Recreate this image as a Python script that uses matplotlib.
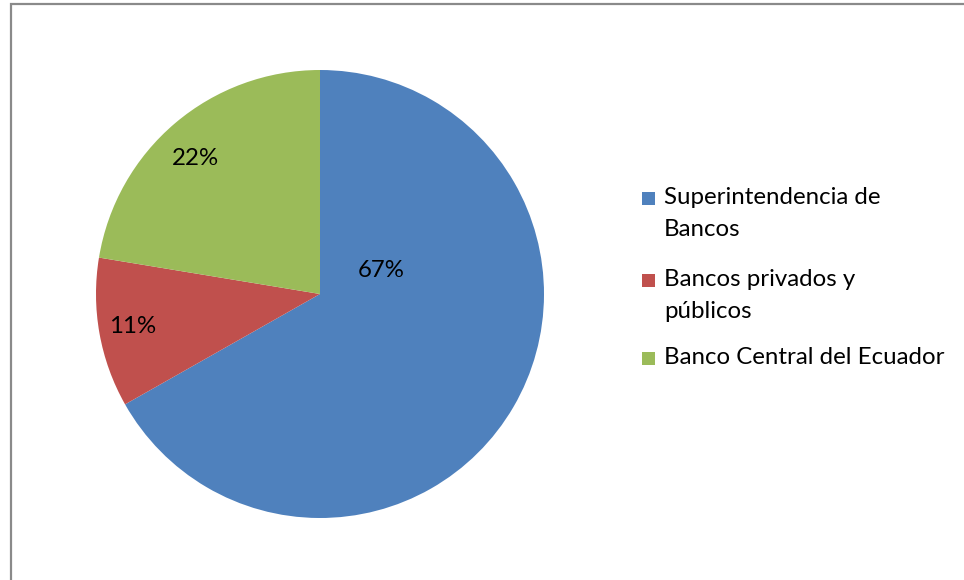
import matplotlib
matplotlib.use("Agg")
import matplotlib.pyplot as plt
from matplotlib.patches import Rectangle

categories = ["Superintendencia de\nBancos", "Bancos privados y\npúblicos", "Banco Central del Ecuador"]
values = [66.8, 10.8, 22.4]
colors = ["#4F81BD", "#C0504D", "#9BBB59"]
label_offsets = [(0.272, 0.107), (-0.835, -0.143), (-0.554, 0.607)]

W, H = 964, 580
FS = 17.3
plt.rcParams['font.family'] = ['Lato', 'DejaVu Sans']
fig = plt.figure(figsize=(W / 100, H / 100), dpi=100)

# frame
fig.patches.append(Rectangle((10.5 / W, -0.1), 1.2, (H - 4.5) / H + 0.1,
                             transform=fig.transFigure, fill=False,
                             edgecolor="#8A8A8A", linewidth=1.6))

cx, cy, r = 320, 294, 224
ax = fig.add_axes([(cx - r) / W, (H - cy - r) / H, 2 * r / W, 2 * r / H])
wedges, texts, autotexts = ax.pie(values, colors=colors, startangle=90, counterclock=False,
                                  autopct='%1.0f%%', radius=1,
                                  wedgeprops=dict(linewidth=0),
                                  textprops=dict(fontsize=FS, color="black"))
for t, (dx, dy) in zip(autotexts, label_offsets):
    t.set_position((dx, dy))
    t.set_ha('center'); t.set_va('center')
ax.set_xlim(-1, 1); ax.set_ylim(-1, 1)
ax.set_aspect('equal')
ax.axis('off')

# legend
first_line_y = [198, 280, 358]
for cat, col, y in zip(categories, colors, first_line_y):
    fig.patches.append(Rectangle((642 / W, (H - y - 6.5) / H), 13 / W, 13 / H,
                                 transform=fig.transFigure, facecolor=col, edgecolor='none'))
    for i, line in enumerate(cat.split('\n')):
        fig.text(664 / W, (H - y - 32 * i) / H, line, fontsize=FS, ha='left', va='center', color='black')

fig.savefig("out.png", dpi=100, facecolor="white")
